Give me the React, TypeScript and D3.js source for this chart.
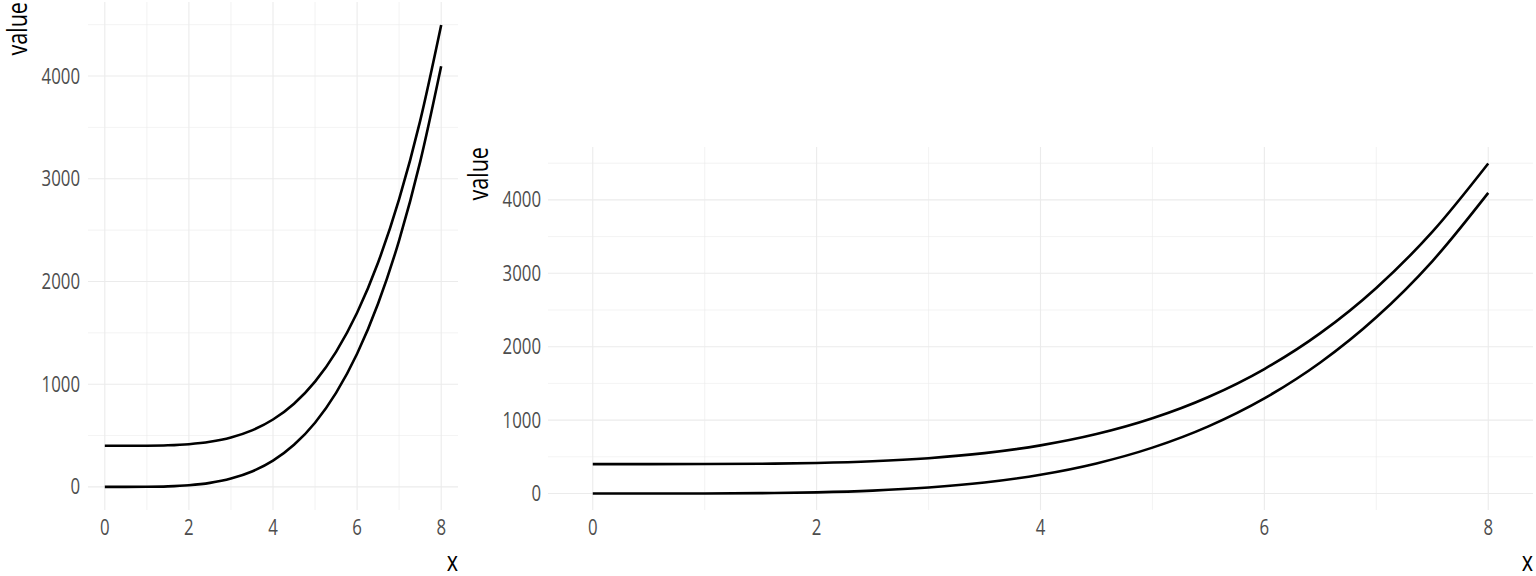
import React from "react";
import * as d3 from "d3";

const xs = [0, 0.5, 1, 1.5, 2, 2.5, 3, 3.5, 4, 4.5, 5, 5.5, 6, 6.5, 7, 7.5, 8];
const lowerSeries = [0, 0, 1, 5, 16, 39, 81, 150, 256, 410, 625, 915, 1296, 1785, 2401, 3164, 4096];
const upperSeries = [400, 400, 401, 405, 416, 439, 481, 550, 656, 810, 1025, 1315, 1696, 2185, 2801, 3564, 4496];
const xTicks = [0, 2, 4, 6, 8];
const xMinor = [1, 3, 5, 7];
const yTicks = [0, 1000, 2000, 3000, 4000];
const yMinor = [500, 1500, 2500, 3500, 4500];
const xDomain: [number, number] = [-0.4, 8.4];
const yDomain: [number, number] = [-224.8, 4720.8];

const FONT = "'Open Sans', 'Noto Sans', sans-serif";
const SX = 0.8;

type PanelProps = { left: number; right: number; top: number; bottom: number; yLabelX: number; yTitleX: number };

function Label({ x, y, anchor, size, fill, rotate, dy, children }: any) {
  return (
    <g transform={`translate(${x},${y})${rotate ? " rotate(-90)" : ""} scale(${SX},1)`}>
      <text x={0} y={0} dy={dy} textAnchor={anchor} fontFamily={FONT} fontSize={size} fill={fill}>
        {children}
      </text>
    </g>
  );
}

function Panel({ left, right, top, bottom, yLabelX, yTitleX }: PanelProps) {
  const x = d3.scaleLinear().domain(xDomain).range([left, right]);
  const y = d3.scaleLinear().domain(yDomain).range([bottom, top]);
  const line = d3
    .line<number>()
    .x((_, i) => x(xs[i]))
    .y((d) => y(d))
    .curve(d3.curveMonotoneX);
  return (
    <g>
      {yMinor.map((v) => (
        <line key={"ym" + v} x1={left} x2={right} y1={y(v)} y2={y(v)} stroke="#EBEBEB" strokeWidth={0.6} />
      ))}
      {xMinor.map((v) => (
        <line key={"xm" + v} x1={x(v)} x2={x(v)} y1={top} y2={bottom} stroke="#EBEBEB" strokeWidth={0.6} />
      ))}
      {yTicks.map((v) => (
        <line key={"y" + v} x1={left} x2={right} y1={y(v)} y2={y(v)} stroke="#EBEBEB" strokeWidth={1.1} />
      ))}
      {xTicks.map((v) => (
        <line key={"x" + v} x1={x(v)} x2={x(v)} y1={top} y2={bottom} stroke="#EBEBEB" strokeWidth={1.1} />
      ))}
      <path d={line(upperSeries) || ""} fill="none" stroke="#000" strokeWidth={2.6} />
      <path d={line(lowerSeries) || ""} fill="none" stroke="#000" strokeWidth={2.6} />
      {yTicks.map((v) => (
        <Label key={"yl" + v} x={yLabelX} y={y(v)} dy="0.36em" anchor="end" size={21} fill="#4D4D4D">
          {v}
        </Label>
      ))}
      {xTicks.map((v) => (
        <Label key={"xl" + v} x={x(v)} y={527} dy="0.36em" anchor="middle" size={21} fill="#4D4D4D">
          {v}
        </Label>
      ))}
      <Label x={right} y={561} dy="0.36em" anchor="end" size={27} fill="#000">
        x
      </Label>
      <Label x={yTitleX} y={top} dy="0.36em" anchor="end" size={27} fill="#000" rotate>
        value
      </Label>
    </g>
  );
}

export default function App() {
  return (
    <div style={{ position: "absolute", left: 0, top: 0 }}>
      <svg width={1536} height={576} style={{ display: "block", background: "#fff" }}>
        <Panel left={88} right={458} top={2} bottom={510} yLabelX={80} yTitleX={17} />
        <Panel left={548} right={1533} top={147} bottom={510} yLabelX={541} yTitleX={478} />
      </svg>
    </div>
  );
}
